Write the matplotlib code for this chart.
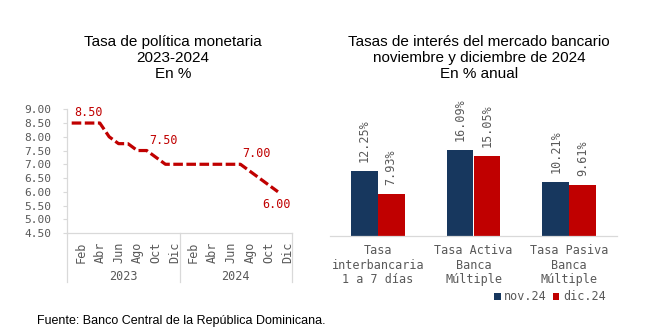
import matplotlib
matplotlib.use("Agg")
import matplotlib.pyplot as plt
import numpy as np
from matplotlib.lines import Line2D
from matplotlib.patches import Patch
import matplotlib.transforms as mtransforms

# ---- data ----
months = ["Ene", "Feb", "Mar", "Abr", "May", "Jun", "Jul", "Ago", "Sep", "Oct", "Nov", "Dic"]
years = ["2023", "2024"]
tpm_2023 = [8.50, 8.50, 8.50, 8.50, 8.00, 7.75, 7.75, 7.50, 7.50, 7.25, 7.00, 7.00]
tpm_2024 = [7.00, 7.00, 7.00, 7.00, 7.00, 7.00, 7.00, 6.75, 6.50, 6.25, 6.00, np.nan]
tpm_labeled = [0, 8, 18, 22]          # positions whose value is printed

rate_categories = ["Tasa\ninterbancaria\n1 a 7 días",
                   "Tasa Activa\nBanca\nMúltiple",
                   "Tasa Pasiva\nBanca\nMúltiple"]
rates_nov24 = [12.25, 16.09, 10.21]
rates_dic24 = [7.93, 15.05, 9.61]
series_labels = ["nov.24", "dic.24"]

# ---- style ----
W, H = 650, 336
DPI = 100
RED = "#C00000"
BLUE = "#17375E"
GRAY_TXT = "#595959"
GRAY_LINE = "#D9D9D9"
MONO = "DejaVu Sans Mono"
SANS = ["Liberation Sans Narrow", "Liberation Sans", "DejaVu Sans"]


def fx(px):
    return px / W


def fy(py):
    return 1 - py / H


fig = plt.figure(figsize=(W / DPI, H / DPI), dpi=DPI)
fig.patch.set_facecolor("white")

# ================= left: policy rate line =================
axl = fig.add_axes([fx(67), fy(233), fx(292) - fx(67), fy(109.3) - fy(233)])
values = tpm_2023 + tpm_2024
x = np.arange(len(values))
axl.plot(x, values, color=RED, lw=2.3, dashes=(3.0, 1.1), solid_capstyle="butt",
         dash_capstyle="butt")
axl.set_xlim(-0.5, len(values) - 0.5)
axl.set_ylim(4.5, 9.0)
axl.set_yticks(np.arange(4.5, 9.01, 0.5))
axl.set_yticklabels([f"{v:.2f}" for v in np.arange(4.5, 9.01, 0.5)],
                    fontfamily=MONO, fontsize=8, color=GRAY_TXT)
axl.tick_params(axis="y", length=3, width=0.8, color=GRAY_LINE, pad=8)

tick_pos = [i for i in range(len(values)) if i % 2 == 1]
tick_lab = [months[i % 12] for i in tick_pos]
axl.set_xticks(tick_pos)
axl.set_xticklabels(tick_lab, rotation=90, fontfamily=MONO, fontsize=8.5,
                    color=GRAY_TXT, va="top")
axl.tick_params(axis="x", length=0, pad=6.5)

for side in ["top", "right"]:
    axl.spines[side].set_visible(False)
for side in ["left", "bottom"]:
    axl.spines[side].set_color(GRAY_LINE)
    axl.spines[side].set_linewidth(0.9)

# year group labels and separators below the axis
trans = mtransforms.blended_transform_factory(axl.transData, axl.transAxes)
sep_bottom = -(282 - 233) / (233 - 109.3)
for xs in [-0.5, 11.5, len(values) - 0.5]:
    axl.add_line(Line2D([xs, xs], [0, sep_bottom], transform=trans, color=GRAY_LINE,
                        lw=0.9, clip_on=False))
year_y = -(277 - 233) / (233 - 109.3)
for k, yr in enumerate(years):
    axl.text(5.5 + 12 * k, year_y, yr, transform=trans, ha="center", va="center",
             fontfamily=MONO, fontsize=8.5, color=GRAY_TXT)

# printed values on the line
for i in tpm_labeled:
    v = values[i]
    if i == len(values) - 2:
        axl.annotate(f"{v:.2f}", (x[i], v), xytext=(-1, -9), textcoords="offset points",
                     ha="center", va="center", fontfamily=MONO, fontsize=8.5, color=RED,
                     annotation_clip=False)
    else:
        axl.annotate(f"{v:.2f}", (x[i], v), xytext=(1.5, 7.5), textcoords="offset points",
                     ha="left", va="center", fontfamily=MONO, fontsize=8.5, color=RED,
                     annotation_clip=False)

fig.text(fx(173), fy(58), "Tasa de política monetaria\n2023-2024\nEn %", ha="center",
         va="center", fontsize=11, family=SANS, color="black", linespacing=1.2)

# ================= right: market rates bars =================
scale = 5.33  # px per unit
top_val = 25
axr = fig.add_axes([fx(330), fy(236), fx(617) - fx(330), (top_val * scale) / H])
xc = np.arange(len(rate_categories))
bw = 0.279
b1 = axr.bar(xc - bw / 2, rates_nov24, bw, color=BLUE)
b2 = axr.bar(xc + bw / 2, rates_dic24, bw, color=RED)
axr.set_xlim(-0.5, len(rate_categories) - 0.5)
axr.set_ylim(0, top_val)
axr.set_yticks([])
axr.set_xticks(xc)
axr.set_xticklabels(rate_categories, fontfamily=MONO, fontsize=8.5, color=GRAY_TXT,
                    linespacing=1.12)
axr.tick_params(axis="x", length=0, pad=6)
for side in ["top", "right", "left"]:
    axr.spines[side].set_visible(False)
axr.spines["bottom"].set_color(GRAY_LINE)
axr.spines["bottom"].set_linewidth(0.9)
axr.patch.set_alpha(0)

for bars, vals in [(b1, rates_nov24), (b2, rates_dic24)]:
    for rect, v in zip(bars, vals):
        axr.annotate(f"{v:.2f}%", (rect.get_x() + rect.get_width() / 2, v),
                     xytext=(0, 6.5), textcoords="offset points", rotation=90,
                     ha="center", va="bottom", fontfamily=MONO, fontsize=8.5,
                     color=GRAY_TXT, annotation_clip=False)

fig.text(fx(479), fy(58),
         "Tasas de interés del mercado bancario\nnoviembre y diciembre de 2024\nEn % anual",
         ha="center", va="center", fontsize=11, family=SANS, color="black",
         linespacing=1.2)

handles = [Patch(facecolor=BLUE), Patch(facecolor=RED)]
fig.legend(handles, series_labels, loc="center", bbox_to_anchor=(fx(550), fy(297)),
           ncol=2, frameon=False, handlelength=0.55, handleheight=0.55,
           handletextpad=0.3, columnspacing=0.5,
           prop={"family": MONO, "size": 8.5}, labelcolor=GRAY_TXT)

fig.text(fx(37), fy(321), "Fuente: Banco Central de la República Dominicana.",
         ha="left", va="center", fontsize=9, family=["Liberation Sans", "DejaVu Sans"],
         color="black")

fig.savefig("out.png", dpi=DPI)
